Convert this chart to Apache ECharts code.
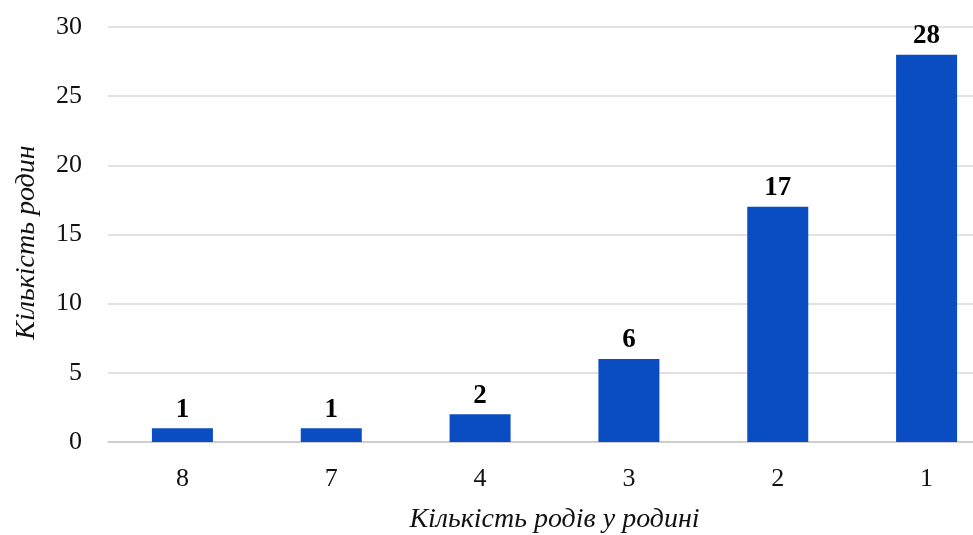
<!DOCTYPE html>
<html><head><meta charset="utf-8">
<script src="https://cdn.jsdelivr.net/npm/echarts@6/dist/echarts.min.js"></script>
<style>html,body{margin:0;padding:0;background:#fff;overflow:hidden;width:973px;height:535px}#c{width:1001px;height:535px}</style>
</head><body><div id="c"></div>
<script>
const categories = ['8', '7', '4', '3', '2', '1'];
const values = [1, 1, 2, 6, 17, 28];
const xAxisName = 'Кількість родів у родині';
const yAxisName = 'Кількість родин';
const chart = echarts.init(document.getElementById('c'));
const font = 'Liberation Serif';
chart.setOption({
  animation: false,
  grid: { left: 108, right: 0, top: 27, bottom: 93, outerBoundsMode: 'none', containLabel: false },
  xAxis: {
    type: 'category', data: categories,
    name: xAxisName, nameLocation: 'middle', nameGap: 64,
    nameTextStyle: { fontFamily: font, fontStyle: 'italic', fontSize: 28, color: '#111' },
    axisLine: { lineStyle: { color: '#c8c8c8', width: 1.5 } },
    axisTick: { show: false },
    axisLabel: { fontFamily: font, fontSize: 26, color: '#111', margin: 24 }
  },
  yAxis: {
    type: 'value', min: 0, max: 30, interval: 5,
    name: yAxisName, nameLocation: 'middle', nameGap: 67, nameRotate: 90,
    nameTextStyle: { fontFamily: font, fontStyle: 'italic', fontSize: 28, color: '#111', padding: [0, 16, 0, 0] },
    axisLine: { show: false }, axisTick: { show: false },
    axisLabel: { fontFamily: font, fontSize: 26, color: '#111', margin: 26 },
    splitLine: { lineStyle: { color: '#d9d9d9', width: 1.5 } }
  },
  series: [{
    type: 'bar', data: values, barWidth: 61,
    itemStyle: { color: '#0a4cc2' },
    label: { show: true, position: 'top', distance: 5, fontFamily: font, fontWeight: 'bold', fontSize: 27, color: '#000' }
  }]
});
</script></body></html>
